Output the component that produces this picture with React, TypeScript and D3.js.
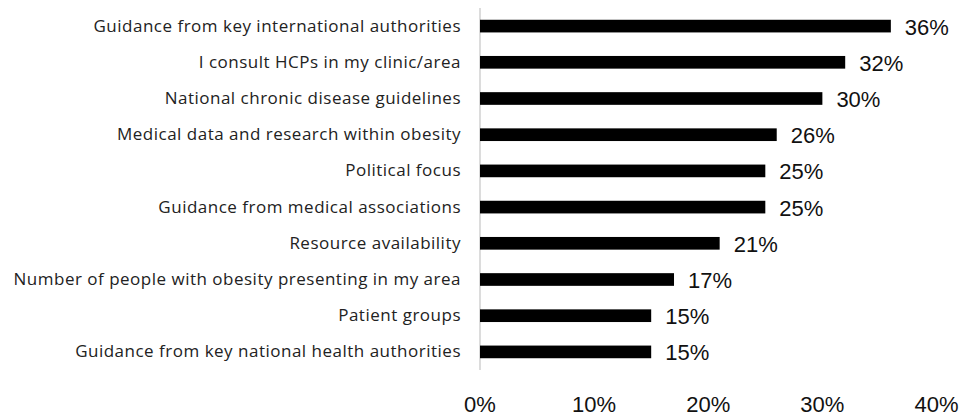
import React from "react";
import * as d3 from "d3";

const categories = [
  "Guidance from key international authorities",
  "I consult HCPs in my clinic/area",
  "National chronic disease guidelines",
  "Medical data and research within obesity",
  "Political focus",
  "Guidance from medical associations",
  "Resource availability",
  "Number of people with obesity presenting in my area",
  "Patient groups",
  "Guidance from key national health authorities",
];
const values = [36, 32, 30, 26, 25, 25, 21, 17, 15, 15];
const ticks = [0, 10, 20, 30, 40];

const W = 964;
const H = 416;

export default function App() {
  const x = d3.scaleLinear().domain([0, 40]).range([480, 936.5]);
  const y = d3
    .scaleBand<string>()
    .domain(categories)
    .range([8, 370])
    .paddingInner(0.65)
    .paddingOuter(0.325);
  const bh = y.bandwidth();
  return (
    <svg
      width={W}
      height={H}
      style={{ position: "absolute", left: 0, top: 0, background: "#fff" }}
    >
      <line x1={x(0)} x2={x(0)} y1={8} y2={370} stroke="#d0d0d0" strokeWidth={1.5} />
      {categories.map((c, i) => {
        const yc = (y(c) as number) + bh / 2;
        return (
          <g key={c}>
            <rect x={x(0)} y={y(c)} width={x(values[i]) - x(0)} height={bh} fill="#000" />
            <text
              x={461}
              y={yc + 5.5}
              textAnchor="end"
              fontFamily="'Open Sans', sans-serif"
              fontSize={17}
              letterSpacing={0.5}
              fill="#222"
            >
              {c}
            </text>
            <text
              x={x(values[i]) + 14}
              y={yc + 1}
              dominantBaseline="central"
              fontFamily="'Liberation Sans', Arial, sans-serif"
              fontSize={22}
              fill="#111"
            >
              {values[i]}%
            </text>
          </g>
        );
      })}
      {ticks.map((t) => (
        <text
          key={t}
          x={x(t)}
          y={412}
          textAnchor="middle"
          fontFamily="'Liberation Sans', Arial, sans-serif"
          fontSize={22}
          fill="#111"
        >
          {t}%
        </text>
      ))}
    </svg>
  );
}
